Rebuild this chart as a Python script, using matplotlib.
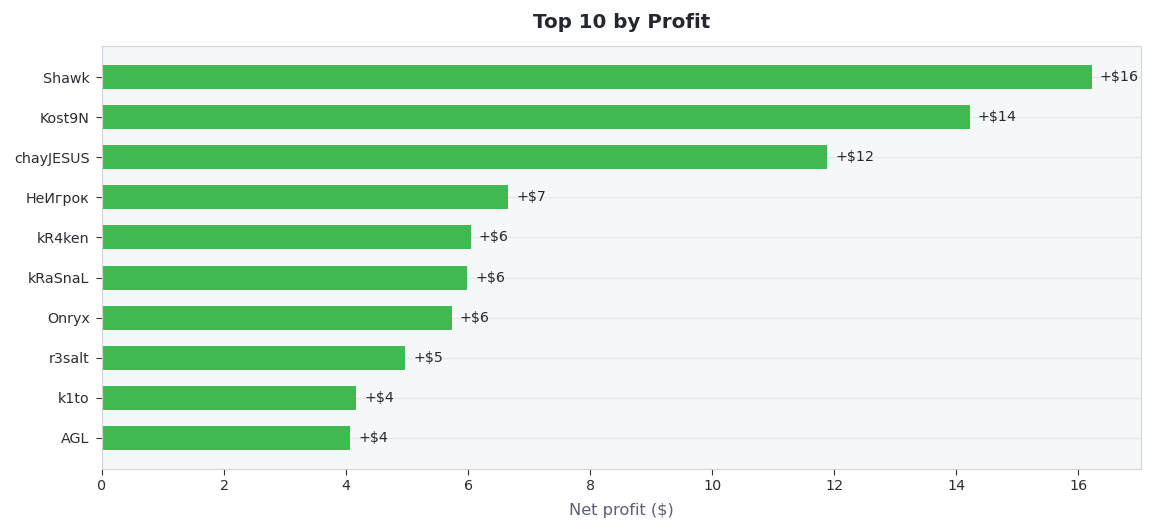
import matplotlib.pyplot as plt

plt.rcParams['font.family'] = ['DejaVu Sans']

players = ["Shawk", "Kost9N", "chayJESUS", "НеИгрок", "kR4ken",
           "kRaSnaL", "Onryx", "r3salt", "k1to", "AGL"]
profits = [16.22, 14.22, 11.89, 6.66, 6.04, 5.99, 5.73, 4.97, 4.17, 4.07]


def plot_top_profit(names, values):
    """Horizontal bar chart of the top players by net profit"""
    fig = plt.figure(figsize=(11.54, 5.31), dpi=100)
    ax = fig.add_axes([102 / 1154, 1 - 469 / 531, (1141 - 102) / 1154, (469 - 46) / 531])
    ax.set_facecolor("#f6f7f9")

    pos = list(range(len(names)))
    ax.barh(pos, values, height=0.6, color="#40b953", zorder=2)
    ax.set_yticks(pos)
    ax.set_yticklabels(names)
    ax.invert_yaxis()
    ax.set_ylim(len(names) - 0.22, -0.78)
    ax.set_xlim(0, 17.03)
    ax.set_xticks(range(0, 17, 2))

    for p, v in zip(pos, values):
        ax.text(v + 0.13, p, f"+${round(v):.0f}", va="center", ha="left",
                fontsize=10.3, color="#262a30", zorder=3)

    ax.grid(axis="y", color="#e6e9ee", linewidth=1, zorder=1)
    for s in ax.spines.values():
        s.set_color("#cfd5df")
    ax.tick_params(colors="#333333", labelsize=10.3, length=4)
    ax.tick_params(axis="both", labelcolor="#2a2d33")
    ax.tick_params(axis="y", pad=5)

    ax.set_xlabel("Net profit ($)", fontsize=11.7, color="#5a6170", labelpad=7)
    fig.text(0.5385, 1 - 22 / 531, "Top 10 by Profit", ha="center", va="center",
             fontsize=14.3, fontweight="bold", color="#24272d")

    fig.savefig("out.png", dpi=100)


plot_top_profit(players, profits)
